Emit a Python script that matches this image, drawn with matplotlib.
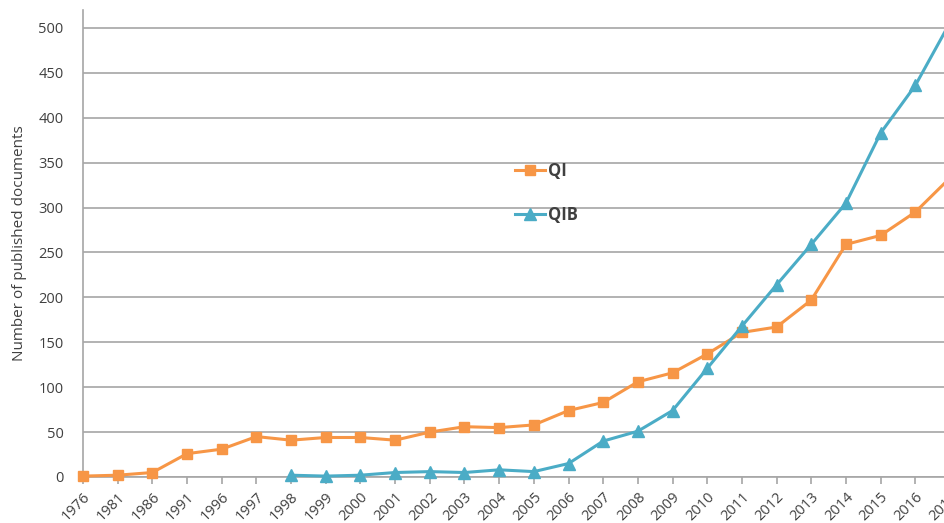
import numpy as np
import matplotlib.pyplot as plt

# publicatiejaren (eerste vijf in stappen van 5 jaar)
years = ['1976', '1981', '1986', '1991', '1996', '1997', '1998', '1999', '2000',
         '2001', '2002', '2003', '2004', '2005', '2006', '2007', '2008', '2009',
         '2010', '2011', '2012', '2013', '2014', '2015', '2016', '2017']

qi = [1, 2, 5, 26, 31, 45, 41, 44, 44, 41, 50, 56, 55, 58, 74, 83, 106, 116,
      137, 161, 167, 197, 259, 269, 295, 333]

# QIB begint pas in 1998
qib_years = years[6:]
qib = [2, 1, 2, 5, 6, 5, 8, 6, 15, 40, 51, 74, 121, 168, 214, 259, 305, 383,
       436, 506]

plt.rcParams['font.family'] = ['Open Sans', 'DejaVu Sans']

fig = plt.figure(figsize=(9.44, 5.23), dpi=100)
ax = fig.add_axes([83 / 944, 46 / 523, 867 / 944, 467 / 523])

x = np.arange(len(years))
x_qib = np.arange(len(years) - len(qib_years), len(years))

orange = '#F79646'
blue = '#4BACC6'
grid = '#A6A6A6'
text = '#404040'

ax.plot(x, qi, color=orange, linewidth=2.2, marker='s', markersize=7,
        label='QI', zorder=3, clip_on=False)
ax.plot(x_qib, qib, color=blue, linewidth=2.2, marker='^', markersize=8,
        label='QIB', zorder=3, clip_on=False)

ax.set_xlim(0, len(years) - 1)
ax.set_ylim(0, 520)
ax.set_yticks(np.arange(0, 501, 50))
ax.set_xticks(x)
ax.set_xticklabels(years, rotation=45, ha='right', rotation_mode='anchor')

ax.yaxis.grid(True, color=grid, linewidth=1.2)
ax.set_axisbelow(True)

for s in ['top', 'right']:
    ax.spines[s].set_visible(False)
ax.spines['left'].set_color(grid)
ax.spines['bottom'].set_color(grid)
ax.spines['left'].set_linewidth(1.2)
ax.spines['bottom'].set_linewidth(1.2)

ax.tick_params(axis='y', length=0, pad=14, labelsize=10.5, labelcolor=text)
ax.tick_params(axis='x', length=5, width=1.2, color=grid, pad=4,
               labelsize=10.5, labelcolor=text)

ax.set_ylabel('Number of published documents', fontsize=11, color=text,
              labelpad=8)

leg = ax.legend(loc='upper left', bbox_to_anchor=(0.481, 0.707), frameon=False,
                labelspacing=1.55, handlelength=1.8, handletextpad=0.2,
                prop={'weight': 'bold', 'size': 12})
for t in leg.get_texts():
    t.set_color(text)

fig.savefig('out.png', dpi=100)
